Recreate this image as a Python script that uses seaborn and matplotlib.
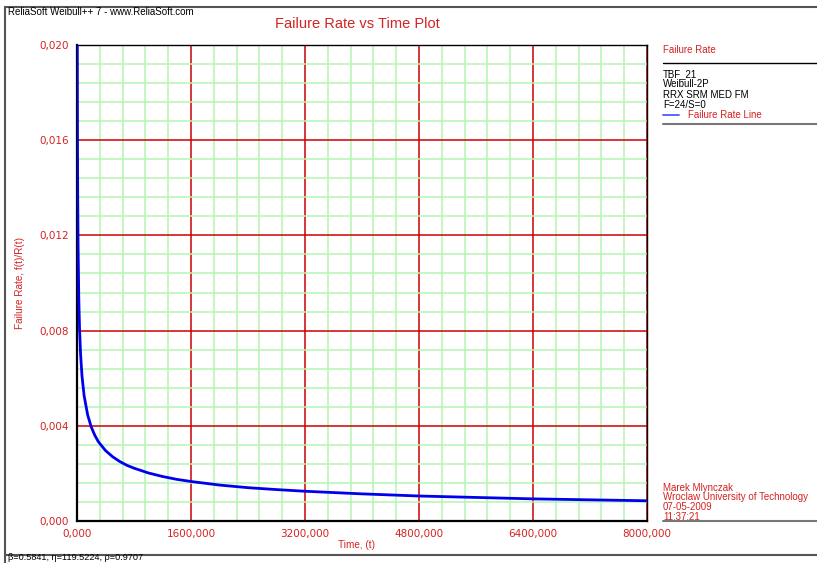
import matplotlib
matplotlib.use("Agg")
import matplotlib.pyplot as plt
from matplotlib.lines import Line2D
from matplotlib.ticker import FixedLocator, FuncFormatter
import seaborn as sns
import pandas as pd

# ---- data ----
time_t = [3, 4, 5, 7, 10, 15, 25, 35, 50, 70, 100, 150, 200, 250, 300, 400,
          500, 600, 700, 800, 1000, 1200, 1400, 1600, 2000, 2400, 2800, 3200,
          4000, 4800, 5600, 6400, 7200, 8000]
failure_rate = [0.0227, 0.0201, 0.0183, 0.0158, 0.0137, 0.0116, 0.00937,
                0.00815, 0.00702, 0.00610, 0.00526, 0.00445, 0.00395, 0.00360,
                0.00333, 0.00296, 0.00270, 0.00250, 0.00234, 0.00222, 0.00202,
                0.00187, 0.00175, 0.00166, 0.00151, 0.00140, 0.00132, 0.00125,
                0.00114, 0.00105, 0.00099, 0.00093, 0.00089, 0.00085]
x_ticks = [0, 1600, 3200, 4800, 6400, 8000]
y_ticks = [0.000, 0.004, 0.008, 0.012, 0.016, 0.020]
legend_info = ["TBF_21", "Weibull-2P", "RRX SRM MED FM", "F=24/S=0"]
footer_info = ["Marek Mlynczak", "Wroclaw University of Technology",
               "07-05-2009", "11:37:21"]
param_text = "\u03b2=0.5841, \u03b7=119.5224, \u03c1=0.9707"

df = pd.DataFrame({"Time": time_t, "Rate": failure_rate})

sns.set_style("white")
plt.rcParams["font.family"] = ["DejaVu Sans"]

SMALL = ["Liberation Sans", "DejaVu Sans"]
RED = "#d42222"
W, H = 817, 563
fig = plt.figure(figsize=(W / 100, H / 100), dpi=100)

def fx(px):
    return px / W

def fy(py):
    return 1 - py / H

ax = fig.add_axes([fx(77), fy(521), fx(647) - fx(77), fy(45) - fy(521)])

sns.lineplot(data=df, x="Time", y="Rate", ax=ax, color="#0000ee",
             linewidth=2, zorder=5)

ax.set_xlim(0, 8000)
ax.set_ylim(0, 0.020)
ax.xaxis.set_major_locator(FixedLocator(x_ticks))
ax.yaxis.set_major_locator(FixedLocator(y_ticks))
ax.xaxis.set_minor_locator(FixedLocator([i * 320 for i in range(26)]))
ax.yaxis.set_minor_locator(FixedLocator([i * 0.0008 for i in range(26)]))
ax.xaxis.set_major_formatter(FuncFormatter(lambda v, p: f"{v:.3f}".replace(".", ",")))
ax.yaxis.set_major_formatter(FuncFormatter(lambda v, p: f"{v:.3f}".replace(".", ",")))
ax.grid(which="minor", color="#b4f5b4", linewidth=1.1, zorder=1)
ax.grid(which="major", color="#cc0000", linewidth=1.1, zorder=2)
ax.set_axisbelow(True)
ax.tick_params(axis="both", which="major", labelsize=7.5, labelcolor=RED,
               length=4, width=1, color="black", direction="out", pad=2)
ax.tick_params(axis="both", which="minor", length=0)
for s in ax.spines.values():
    s.set_color("black")
    s.set_linewidth(1.0)
ax.spines["left"].set_linewidth(1.6)
ax.spines["bottom"].set_linewidth(1.6)
ax.set_xlabel("")
ax.set_ylabel("")

# axis labels and title
fig.text(fx(357), fy(545), "Time, (t)", color=RED, fontsize=7.2, family=SMALL,
         ha="center", va="center")
fig.text(fx(20), fy(283), "Failure Rate, f(t)/R(t)", color=RED, fontsize=7.2,
         family=SMALL, ha="center", va="center", rotation=90)
fig.text(fx(357), fy(24), "Failure Rate vs Time Plot", color=RED, fontsize=10.5,
         family=SMALL, ha="center", va="center")
fig.text(fx(8), fy(12), "ReliaSoft Weibull++ 7 - www.ReliaSoft.com",
         color="black", fontsize=7, family=SMALL, ha="left", va="center")

# outer frame lines
fig.add_artist(Line2D([fx(5), fx(817)], [fy(6.5), fy(6.5)], color="#555555", lw=1.5))
fig.add_artist(Line2D([fx(5), fx(5)], [fy(6.5), fy(563)], color="#555555", lw=1.5))
fig.add_artist(Line2D([fx(5), fx(817)], [fy(555), fy(555)], color="#555555", lw=1.5))
fig.text(fx(8), fy(562.5), param_text, color="black", fontsize=6.6,
         family=SMALL, ha="left", va="bottom")

# legend panel
fig.text(fx(663), fy(50), "Failure Rate", color=RED, fontsize=7, family=SMALL,
         ha="left", va="center")
fig.add_artist(Line2D([fx(663), fx(817)], [fy(63), fy(63)], color="black", lw=1))
for i, s in enumerate(legend_info):
    fig.text(fx(663), fy(74 + i * 10.3), s, color="black", fontsize=7,
             family=SMALL, ha="left", va="center")
fig.add_artist(Line2D([fx(663), fx(679)], [fy(115), fy(115)], color="#5555ff", lw=1.3))
fig.text(fx(688), fy(115), "Failure Rate Line", color=RED, fontsize=7,
         family=SMALL, ha="left", va="center")
fig.add_artist(Line2D([fx(663), fx(817)], [fy(124), fy(124)], color="#777777", lw=1.5))

for i, s in enumerate(footer_info):
    fig.text(fx(663), fy(488 + i * 9.5), s, color=RED, fontsize=7,
             family=SMALL, ha="left", va="center")
fig.add_artist(Line2D([fx(663), fx(817)], [fy(521), fy(521)], color="#777777", lw=1.5))

fig.savefig("out.png", dpi=100)
